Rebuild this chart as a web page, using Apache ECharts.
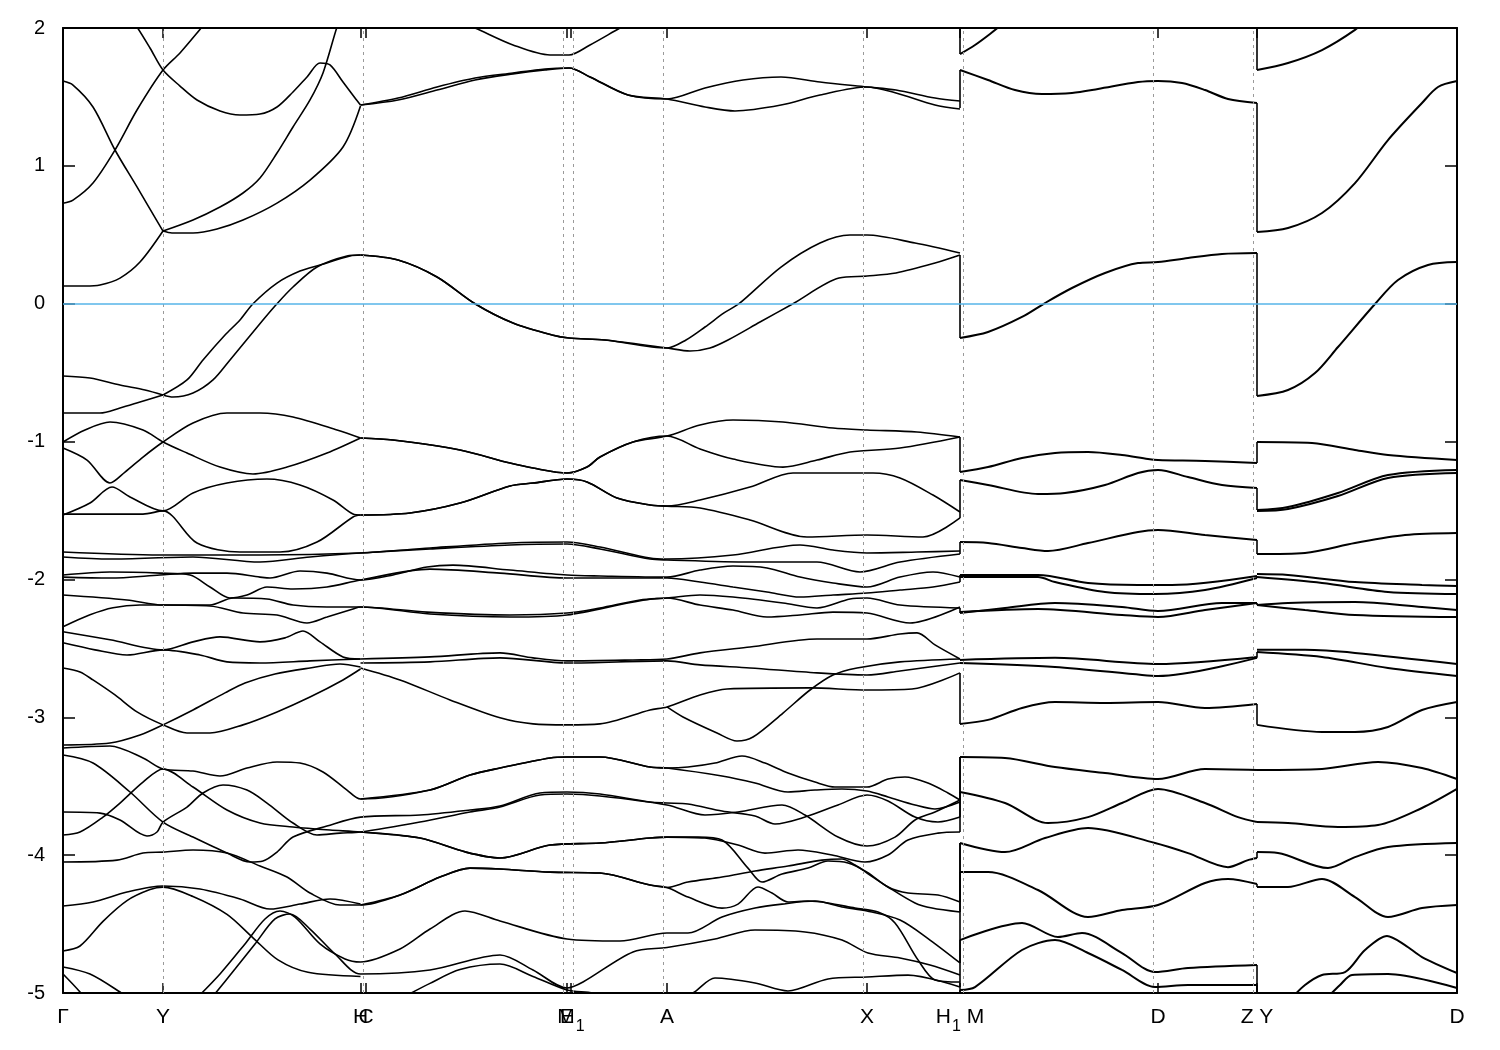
<!DOCTYPE html>
<html><head><meta charset="utf-8">
<script src="https://cdn.jsdelivr.net/npm/echarts@6/dist/echarts.min.js"></script>
<style>html,body{margin:0;padding:0;background:#fff}#c{width:1500px;height:1050px}</style>
</head><body><div id="c"></div>
<script>
// k-path positions (path length units) and their labels ("_1" = subscript 1)
const kTicks = [0, 0.100, 0.2975, 0.303, 0.504, 0.508, 0.604, 0.804, 0.897, 1.095, 1.194, 1.394];
const kLabels = ['Γ', 'Y', 'H', 'C', 'E', 'M_1', 'A', 'X', 'H_1 M', 'D', 'Z Y', 'D'];
const yTicks = [-5, -4, -3, -2, -1, 0, 1, 2];
const kBreakHM = 0.897, kBreakZY = 1.194;

// Section Γ-Y-H | C-E-M1-A-X-H1 : each entry is one band curve [k, E(eV)]
const bandsA = [
 [[0,1.615],[0.010,1.586],[0.030,1.427],[0.052,1.115],[0.074,0.847],[0.100,0.527]],
 [[0,0.729],[0.010,0.752],[0.030,0.876],[0.052,1.115],[0.074,1.405],[0.100,1.695],[0.117,1.819],[0.139,2.007],[0.149,2.094]],
 [[0.065,2.094],[0.074,2.007],[0.087,1.855],[0.100,1.695],[0.117,1.579],[0.134,1.478],[0.157,1.398],[0.177,1.369],[0.197,1.376],[0.214,1.427],[0.230,1.536],[0.244,1.645],[0.257,1.746],[0.267,1.732],[0.280,1.608],[0.292,1.492],[0.2975,1.441]],
 [[0.100,0.527],[0.130,0.607],[0.157,0.701],[0.180,0.803],[0.197,0.912],[0.214,1.093],[0.230,1.282],[0.247,1.478],[0.260,1.674],[0.274,2.007],[0.279,2.094]],
 [[0,0.129],[0.022,0.129],[0.037,0.136],[0.057,0.186],[0.077,0.302],[0.100,0.527]],
 [[0.100,0.527],[0.109,0.513],[0.130,0.513],[0.154,0.542],[0.180,0.607],[0.214,0.730],[0.247,0.897],[0.280,1.137],[0.2975,1.434]],
 [[0.2975,1.441],[0.335,1.492],[0.374,1.572],[0.412,1.637],[0.450,1.674],[0.482,1.703],[0.506,1.710],[0.527,1.645],[0.565,1.514],[0.604,1.485],[0.642,1.565],[0.680,1.623],[0.718,1.645],[0.757,1.608],[0.804,1.572],[0.833,1.550],[0.872,1.492],[0.897,1.470]],
 [[0.2975,1.441],[0.335,1.478],[0.374,1.550],[0.412,1.623],[0.450,1.667],[0.482,1.696],[0.506,1.710],[0.527,1.645],[0.565,1.514],[0.604,1.485],[0.642,1.427],[0.672,1.398],[0.718,1.441],[0.757,1.514],[0.804,1.572],[0.833,1.529],[0.872,1.441],[0.897,1.412]],
 [[0.392,2.058],[0.412,2.0],[0.450,1.877],[0.487,1.804],[0.506,1.804],[0.527,1.877],[0.557,2.0],[0.572,2.058]],
 [[0,-0.524],[0.027,-0.539],[0.057,-0.590],[0.082,-0.626],[0.100,-0.662]],
 [[0,-0.793],[0.037,-0.793],[0.057,-0.757],[0.077,-0.713],[0.100,-0.662]],
 [[0.100,-0.662],[0.124,-0.553],[0.140,-0.408],[0.162,-0.227],[0.177,-0.118],[0.190,0],[0.214,0.150],[0.237,0.237],[0.257,0.281],[0.287,0.346],[0.2975,0.353]],
 [[0.100,-0.662],[0.110,-0.677],[0.130,-0.648],[0.150,-0.553],[0.167,-0.408],[0.200,-0.118],[0.214,0],[0.230,0.121],[0.254,0.266],[0.284,0.346],[0.2975,0.353]],
 [[0.2975,0.353],[0.335,0.317],[0.374,0.194],[0.412,0],[0.450,-0.140],[0.489,-0.227],[0.506,-0.249],[0.542,-0.263],[0.604,-0.321],[0.623,-0.263],[0.642,-0.169],[0.661,-0.067],[0.676,0],[0.718,0.266],[0.757,0.440],[0.787,0.498],[0.804,0.498],[0.852,0.440],[0.897,0.368]],
 [[0.2975,0.353],[0.335,0.317],[0.374,0.194],[0.412,0],[0.450,-0.140],[0.489,-0.227],[0.506,-0.249],[0.542,-0.263],[0.604,-0.321],[0.627,-0.343],[0.647,-0.321],[0.665,-0.263],[0.697,-0.133],[0.730,0],[0.776,0.186],[0.804,0.201],[0.833,0.223],[0.872,0.295],[0.897,0.353]],
 [[0,-1.003],[0.022,-0.916],[0.047,-0.858],[0.080,-0.916],[0.100,-1.003],[0.124,-1.083],[0.157,-1.185],[0.190,-1.235],[0.224,-1.185],[0.264,-1.083],[0.2975,-0.974]],
 [[0,-1.047],[0.024,-1.134],[0.047,-1.300],[0.062,-1.221],[0.080,-1.112],[0.100,-1.003],[0.130,-0.865],[0.164,-0.793],[0.197,-0.793],[0.230,-0.822],[0.274,-0.916],[0.2975,-0.974]],
 [[0,-1.533],[0.027,-1.446],[0.049,-1.330],[0.067,-1.402],[0.100,-1.503],[0.130,-1.373],[0.164,-1.301],[0.204,-1.272],[0.237,-1.315],[0.270,-1.424],[0.290,-1.526],[0.2975,-1.533]],
 [[0,-1.526],[0.080,-1.526],[0.100,-1.503],[0.134,-1.736],[0.177,-1.801],[0.217,-1.801],[0.254,-1.729],[0.290,-1.547],[0.2975,-1.533]],
 [[0.2975,-0.974],[0.330,-0.989],[0.397,-1.061],[0.447,-1.156],[0.470,-1.192],[0.504,-1.228],[0.524,-1.185],[0.537,-1.112],[0.570,-1.003],[0.604,-0.960],[0.637,-0.880],[0.670,-0.844],[0.720,-0.858],[0.770,-0.902],[0.804,-0.916],[0.854,-0.931],[0.897,-0.967]],
 [[0.2975,-0.974],[0.330,-0.989],[0.397,-1.061],[0.447,-1.156],[0.470,-1.192],[0.504,-1.228],[0.524,-1.185],[0.537,-1.112],[0.570,-1.003],[0.604,-0.960],[0.637,-1.054],[0.670,-1.127],[0.720,-1.185],[0.754,-1.134],[0.787,-1.076],[0.837,-1.047],[0.897,-0.967]],
 [[0.2975,-1.533],[0.347,-1.518],[0.397,-1.446],[0.447,-1.322],[0.470,-1.301],[0.504,-1.272],[0.524,-1.293],[0.554,-1.409],[0.587,-1.460],[0.604,-1.468],[0.637,-1.424],[0.687,-1.330],[0.730,-1.228],[0.770,-1.228],[0.810,-1.228],[0.837,-1.264],[0.870,-1.388],[0.897,-1.511]],
 [[0.2975,-1.533],[0.347,-1.518],[0.397,-1.446],[0.447,-1.322],[0.470,-1.301],[0.504,-1.272],[0.524,-1.293],[0.554,-1.409],[0.587,-1.460],[0.604,-1.468],[0.637,-1.482],[0.687,-1.569],[0.744,-1.692],[0.804,-1.678],[0.860,-1.692],[0.897,-1.554]],
 [[0,-1.801],[0.097,-1.823],[0.197,-1.823],[0.297,-1.808],[0.367,-1.772],[0.447,-1.736],[0.504,-1.729],[0.537,-1.765],[0.587,-1.845],[0.604,-1.852],[0.670,-1.823],[0.737,-1.750],[0.770,-1.787],[0.804,-1.808],[0.854,-1.801],[0.897,-1.794]],
 [[0,-1.837],[0.047,-1.852],[0.130,-1.837],[0.197,-1.874],[0.247,-1.837],[0.297,-1.808],[0.367,-1.779],[0.447,-1.750],[0.504,-1.743],[0.537,-1.779],[0.587,-1.852],[0.604,-1.859],[0.687,-1.874],[0.754,-1.874],[0.797,-1.946],[0.837,-1.874],[0.897,-1.816]],
 [[0,-1.983],[0.047,-1.990],[0.097,-1.968],[0.130,-1.954],[0.164,-1.954],[0.197,-1.983],[0.207,-1.990],[0.237,-1.939],[0.264,-1.954],[0.2975,-2.004],[0.330,-1.968],[0.364,-1.910],[0.390,-1.896],[0.447,-1.932],[0.504,-1.968],[0.537,-1.975],[0.604,-1.983],[0.637,-1.932],[0.670,-1.903],[0.704,-1.917],[0.737,-1.983],[0.770,-2.026],[0.804,-2.055],[0.837,-1.983],[0.870,-1.946],[0.897,-1.983]],
 [[0,-1.968],[0.047,-1.946],[0.097,-1.954],[0.127,-1.968],[0.147,-2.055],[0.167,-2.135],[0.184,-2.113],[0.204,-2.055],[0.230,-2.069],[0.264,-2.055],[0.2975,-2.004],[0.367,-1.925],[0.437,-1.954],[0.504,-1.990],[0.604,-1.990],[0.637,-2.019],[0.670,-2.055],[0.704,-2.091],[0.737,-2.128],[0.770,-2.113],[0.804,-2.099],[0.837,-2.077],[0.870,-2.055],[0.897,-2.019]],
 [[0,-2.113],[0.064,-2.149],[0.100,-2.186],[0.147,-2.186],[0.170,-2.135],[0.204,-2.142],[0.230,-2.186],[0.264,-2.200],[0.2975,-2.200],[0.364,-2.237],[0.447,-2.258],[0.504,-2.244],[0.537,-2.207],[0.577,-2.149],[0.604,-2.135],[0.637,-2.113],[0.670,-2.128],[0.720,-2.171],[0.754,-2.207],[0.787,-2.142],[0.804,-2.135],[0.837,-2.186],[0.897,-2.207]],
 [[0,-2.343],[0.027,-2.256],[0.050,-2.205],[0.077,-2.186],[0.100,-2.186],[0.147,-2.193],[0.180,-2.244],[0.214,-2.258],[0.244,-2.316],[0.264,-2.273],[0.290,-2.215],[0.2975,-2.200],[0.367,-2.251],[0.447,-2.273],[0.504,-2.258],[0.604,-2.135],[0.637,-2.186],[0.670,-2.222],[0.704,-2.273],[0.737,-2.258],[0.770,-2.237],[0.804,-2.244],[0.847,-2.316],[0.897,-2.200]],
 [[0,-2.380],[0.047,-2.438],[0.100,-2.511],[0.130,-2.453],[0.157,-2.417],[0.197,-2.453],[0.222,-2.424],[0.240,-2.374],[0.257,-2.453],[0.280,-2.562],[0.2975,-2.577]],
 [[0,-2.460],[0.032,-2.511],[0.064,-2.548],[0.100,-2.511],[0.137,-2.548],[0.164,-2.598],[0.197,-2.606],[0.247,-2.591],[0.2975,-2.577]],
 [[0.2975,-2.577],[0.367,-2.562],[0.437,-2.533],[0.470,-2.569],[0.504,-2.591],[0.570,-2.584],[0.604,-2.577],[0.637,-2.533],[0.687,-2.490],[0.754,-2.432],[0.804,-2.432],[0.837,-2.396],[0.854,-2.388],[0.872,-2.475],[0.897,-2.577]],
 [[0.2975,-2.606],[0.367,-2.598],[0.437,-2.569],[0.504,-2.606],[0.604,-2.591],[0.637,-2.620],[0.687,-2.642],[0.754,-2.678],[0.804,-2.693],[0.837,-2.664],[0.897,-2.606]],
 [[0.2975,-2.642],[0.337,-2.729],[0.387,-2.874],[0.437,-3.004],[0.470,-3.048],[0.504,-3.055],[0.537,-3.048],[0.587,-2.947],[0.604,-2.925],[0.637,-2.838],[0.664,-2.795],[0.747,-2.787],[0.804,-2.802],[0.849,-2.795],[0.897,-2.678]],
 [[0.604,-2.925],[0.620,-2.998],[0.654,-3.114],[0.674,-3.172],[0.690,-3.143],[0.720,-2.969],[0.747,-2.802],[0.770,-2.693],[0.794,-2.642],[0.837,-2.598],[0.897,-2.577]],
 [[0,-2.642],[0.017,-2.671],[0.030,-2.729],[0.052,-2.838],[0.074,-2.961],[0.100,-3.055],[0.124,-3.114],[0.147,-3.114],[0.180,-3.055],[0.214,-2.961],[0.247,-2.853],[0.280,-2.729],[0.2975,-2.650]],
 [[0,-3.201],[0.047,-3.187],[0.077,-3.129],[0.100,-3.055],[0.130,-2.947],[0.162,-2.823],[0.182,-2.751],[0.212,-2.686],[0.247,-2.642],[0.277,-2.613],[0.2975,-2.635]],
 [[0,-3.223],[0.047,-3.208],[0.080,-3.295],[0.100,-3.375],[0.130,-3.390],[0.157,-3.426],[0.184,-3.368],[0.214,-3.324],[0.237,-3.332],[0.260,-3.397],[0.284,-3.528],[0.2975,-3.593],[0.367,-3.528],[0.407,-3.419],[0.437,-3.368],[0.487,-3.295],[0.504,-3.288],[0.537,-3.288],[0.587,-3.361],[0.604,-3.368],[0.625,-3.361],[0.652,-3.332],[0.679,-3.281],[0.702,-3.332],[0.725,-3.404],[0.752,-3.470],[0.772,-3.506],[0.804,-3.506],[0.825,-3.448],[0.842,-3.433],[0.865,-3.477],[0.885,-3.549],[0.897,-3.600]],
 [[0.2975,-3.593],[0.367,-3.528],[0.407,-3.419],[0.437,-3.368],[0.487,-3.295],[0.504,-3.288],[0.537,-3.288],[0.587,-3.361],[0.604,-3.368],[0.659,-3.426],[0.692,-3.477],[0.725,-3.542],[0.752,-3.528],[0.779,-3.520],[0.804,-3.535],[0.825,-3.578],[0.852,-3.636],[0.872,-3.665],[0.897,-3.615]],
 [[0,-3.274],[0.030,-3.332],[0.067,-3.542],[0.100,-3.760],[0.130,-3.869],[0.164,-3.985],[0.187,-4.050],[0.200,-4.043],[0.214,-3.978],[0.230,-3.869],[0.264,-3.789],[0.2975,-3.724],[0.357,-3.709],[0.407,-3.673],[0.437,-3.644],[0.477,-3.549],[0.504,-3.542],[0.537,-3.557],[0.587,-3.615],[0.604,-3.622],[0.625,-3.629],[0.659,-3.680],[0.692,-3.716],[0.712,-3.774],[0.742,-3.724],[0.775,-3.636],[0.804,-3.564],[0.825,-3.607],[0.852,-3.724],[0.875,-3.760],[0.897,-3.724]],
 [[0,-3.687],[0.037,-3.695],[0.057,-3.745],[0.084,-3.861],[0.094,-3.832],[0.100,-3.760],[0.124,-3.651],[0.140,-3.549],[0.160,-3.491],[0.184,-3.528],[0.204,-3.622],[0.230,-3.767],[0.254,-3.854],[0.277,-3.840],[0.2975,-3.832],[0.357,-3.760],[0.407,-3.687],[0.437,-3.651],[0.477,-3.564],[0.504,-3.557],[0.537,-3.571],[0.604,-3.636],[0.642,-3.709],[0.675,-3.687],[0.719,-3.636],[0.742,-3.709],[0.775,-3.869],[0.804,-3.934],[0.832,-3.869],[0.852,-3.745],[0.872,-3.687],[0.897,-3.600]],
 [[0,-3.854],[0.017,-3.832],[0.040,-3.724],[0.057,-3.622],[0.080,-3.470],[0.100,-3.375],[0.130,-3.506],[0.164,-3.673],[0.197,-3.767],[0.230,-3.796],[0.267,-3.818],[0.2975,-3.832],[0.357,-3.876],[0.403,-3.978],[0.437,-4.021],[0.487,-3.927],[0.537,-3.912],[0.587,-3.876],[0.604,-3.869],[0.635,-3.869],[0.659,-3.890],[0.685,-4.094],[0.699,-4.195],[0.719,-4.137],[0.745,-4.094],[0.765,-4.043],[0.785,-4.057],[0.804,-4.123],[0.825,-4.231],[0.845,-4.275],[0.875,-4.289],[0.897,-4.340]],
 [[0.2975,-3.832],[0.357,-3.876],[0.403,-3.978],[0.437,-4.021],[0.487,-3.927],[0.537,-3.912],[0.587,-3.876],[0.604,-3.869],[0.642,-3.876],[0.675,-3.927],[0.702,-3.985],[0.735,-3.963],[0.769,-3.999],[0.802,-4.050],[0.825,-3.999],[0.845,-3.890],[0.875,-3.840],[0.897,-3.832]],
 [[0,-4.050],[0.054,-4.036],[0.080,-3.985],[0.100,-3.978],[0.130,-3.963],[0.164,-3.985],[0.197,-4.079],[0.224,-4.159],[0.247,-4.275],[0.277,-4.362],[0.2975,-4.362],[0.337,-4.289],[0.377,-4.159],[0.407,-4.094],[0.437,-4.101],[0.487,-4.123],[0.537,-4.130],[0.587,-4.217],[0.604,-4.235],[0.625,-4.195],[0.659,-4.159],[0.692,-4.115],[0.725,-4.079],[0.759,-4.036],[0.779,-4.028],[0.792,-4.072],[0.804,-4.130],[0.825,-4.231],[0.852,-4.347],[0.869,-4.384],[0.897,-4.413]],
 [[0.2975,-4.362],[0.337,-4.289],[0.377,-4.159],[0.407,-4.094],[0.437,-4.101],[0.487,-4.123],[0.537,-4.130],[0.587,-4.217],[0.604,-4.235],[0.625,-4.304],[0.659,-4.384],[0.675,-4.355],[0.695,-4.231],[0.709,-4.275],[0.725,-4.340],[0.745,-4.333],[0.765,-4.347],[0.792,-4.384],[0.815,-4.413],[0.832,-4.492],[0.855,-4.760],[0.872,-4.905],[0.897,-4.920]],
 [[0,-4.369],[0.030,-4.340],[0.064,-4.268],[0.100,-4.224],[0.137,-4.246],[0.177,-4.318],[0.207,-4.391],[0.237,-4.355],[0.267,-4.318],[0.2975,-4.355]],
 [[0,-4.695],[0.017,-4.659],[0.040,-4.480],[0.064,-4.330],[0.087,-4.250],[0.100,-4.232],[0.130,-4.300],[0.164,-4.430],[0.190,-4.600],[0.215,-4.760],[0.245,-4.850],[0.2975,-4.880]],
 [[0,-4.811],[0.027,-4.862],[0.057,-4.993],[0.067,-5.05]],
 [[0,-4.862],[0.017,-4.993],[0.022,-5.05]],
 [[0.132,-5.05],[0.157,-4.862],[0.182,-4.644],[0.202,-4.463],[0.217,-4.405],[0.232,-4.449],[0.257,-4.644],[0.282,-4.753],[0.2975,-4.775],[0.337,-4.681],[0.367,-4.536],[0.402,-4.405],[0.437,-4.478],[0.504,-4.608],[0.557,-4.623],[0.604,-4.565],[0.625,-4.565],[0.659,-4.449],[0.692,-4.384],[0.719,-4.355],[0.752,-4.333],[0.779,-4.376],[0.804,-4.405],[0.837,-4.471],[0.867,-4.616],[0.897,-4.782]],
 [[0.147,-5.05],[0.172,-4.826],[0.192,-4.644],[0.212,-4.463],[0.227,-4.427],[0.247,-4.536],[0.272,-4.717],[0.2975,-4.862],[0.367,-4.833],[0.437,-4.724],[0.470,-4.833],[0.504,-4.964],[0.520,-4.920],[0.570,-4.702],[0.604,-4.670],[0.652,-4.608],[0.692,-4.543],[0.742,-4.557],[0.779,-4.616],[0.805,-4.710],[0.837,-4.746],[0.867,-4.797],[0.897,-4.869]],
 [[0.335,-5.05],[0.367,-4.930],[0.397,-4.830],[0.437,-4.790],[0.470,-4.880],[0.504,-4.978],[0.530,-5.0],[0.560,-5.06]],
 [[0.617,-5.06],[0.632,-4.99],[0.652,-4.891],[0.692,-4.927],[0.725,-4.985],[0.765,-4.898],[0.804,-4.884],[0.845,-4.870],[0.897,-4.957]]
];

// Section M-D-Z
const bandsB = [
 [[0.897,1.811],[0.912,1.877],[0.927,1.957],[0.942,2.044]],
 [[0.897,1.695],[0.925,1.623],[0.952,1.550],[0.979,1.521],[1.009,1.529],[1.035,1.558],[1.075,1.608],[1.095,1.616],[1.119,1.601],[1.142,1.550],[1.165,1.485],[1.194,1.456]],
 [[0.897,-0.248],[0.925,-0.205],[0.959,-0.096],[0.982,0.005],[1.009,0.114],[1.042,0.223],[1.075,0.295],[1.095,0.302],[1.125,0.332],[1.159,0.361],[1.194,0.368]],
 [[0.897,-1.221],[0.925,-1.185],[0.959,-1.119],[0.992,-1.083],[1.025,-1.076],[1.059,-1.098],[1.085,-1.127],[1.095,-1.134],[1.142,-1.141],[1.194,-1.156]],
 [[0.897,-1.279],[0.925,-1.315],[0.975,-1.380],[1.002,-1.373],[1.042,-1.315],[1.075,-1.228],[1.095,-1.206],[1.125,-1.257],[1.159,-1.315],[1.194,-1.337]],
 [[0.897,-1.729],[0.925,-1.736],[0.959,-1.772],[0.985,-1.794],[1.025,-1.736],[1.075,-1.656],[1.095,-1.642],[1.142,-1.678],[1.194,-1.714]],
 [[0.897,-1.968],[0.975,-1.968],[1.025,-2.026],[1.075,-2.040],[1.109,-2.040],[1.194,-1.975]],
 [[0.897,-1.983],[0.975,-1.983],[0.992,-2.019],[1.042,-2.091],[1.092,-2.106],[1.142,-2.077],[1.194,-1.990]],
 [[0.897,-2.244],[0.942,-2.207],[0.992,-2.171],[1.059,-2.200],[1.095,-2.229],[1.159,-2.171],[1.194,-2.171]],
 [[0.897,-2.237],[0.975,-2.215],[1.059,-2.258],[1.095,-2.273],[1.142,-2.222],[1.194,-2.171]],
 [[0.897,-2.584],[0.992,-2.569],[1.095,-2.613],[1.194,-2.562]],
 [[0.897,-2.606],[0.992,-2.635],[1.079,-2.693],[1.095,-2.700],[1.194,-2.569]],
 [[0.897,-3.048],[0.925,-3.019],[0.959,-2.932],[0.992,-2.889],[1.042,-2.896],[1.095,-2.889],[1.142,-2.932],[1.194,-2.903]],
 [[0.897,-3.288],[0.942,-3.295],[0.992,-3.361],[1.042,-3.404],[1.095,-3.448],[1.142,-3.375],[1.194,-3.382]],
 [[0.897,-3.542],[0.942,-3.622],[0.985,-3.767],[1.025,-3.724],[1.059,-3.622],[1.095,-3.520],[1.142,-3.622],[1.175,-3.724],[1.194,-3.760]],
 [[0.897,-3.912],[0.942,-3.978],[0.982,-3.876],[1.025,-3.803],[1.092,-3.912],[1.125,-3.985],[1.165,-4.087],[1.185,-4.036],[1.194,-4.021]],
 [[0.897,-4.123],[0.925,-4.123],[0.975,-4.253],[1.025,-4.449],[1.059,-4.398],[1.095,-4.362],[1.142,-4.202],[1.165,-4.173],[1.194,-4.210]],
 [[0.897,-4.616],[0.959,-4.492],[0.995,-4.594],[1.019,-4.565],[1.059,-4.710],[1.092,-4.848],[1.125,-4.819],[1.194,-4.797]],
 [[0.897,-4.978],[0.912,-4.957],[0.959,-4.688],[0.992,-4.616],[1.025,-4.710],[1.059,-4.833],[1.092,-4.957],[1.125,-4.942],[1.194,-4.942]]
];

// Section Y-D
const bandsC = [
 [[1.194,1.695],[1.225,1.746],[1.259,1.840],[1.292,1.986],[1.302,2.058]],
 [[1.194,0.520],[1.225,0.549],[1.259,0.658],[1.292,0.875],[1.325,1.187],[1.359,1.456],[1.375,1.572],[1.394,1.615]],
 [[1.194,-0.669],[1.225,-0.626],[1.252,-0.503],[1.275,-0.314],[1.312,-0.002],[1.335,0.172],[1.365,0.281],[1.394,0.302]],
 [[1.194,-1.003],[1.249,-1.011],[1.292,-1.061],[1.325,-1.098],[1.394,-1.134]],
 [[1.194,-1.497],[1.225,-1.475],[1.275,-1.373],[1.325,-1.243],[1.394,-1.206]],
 [[1.194,-1.504],[1.225,-1.489],[1.275,-1.395],[1.325,-1.264],[1.394,-1.228]],
 [[1.194,-1.816],[1.242,-1.808],[1.292,-1.736],[1.342,-1.678],[1.394,-1.663]],
 [[1.194,-1.961],[1.225,-1.968],[1.292,-2.019],[1.359,-2.040],[1.394,-2.048]],
 [[1.194,-1.983],[1.259,-2.026],[1.325,-2.091],[1.394,-2.106]],
 [[1.194,-2.186],[1.225,-2.171],[1.292,-2.164],[1.359,-2.200],[1.394,-2.222]],
 [[1.194,-2.186],[1.242,-2.222],[1.292,-2.258],[1.394,-2.273]],
 [[1.194,-2.511],[1.242,-2.511],[1.292,-2.533],[1.394,-2.613]],
 [[1.194,-2.526],[1.259,-2.562],[1.325,-2.642],[1.394,-2.700]],
 [[1.194,-3.055],[1.259,-3.106],[1.292,-3.106],[1.325,-3.070],[1.359,-2.947],[1.394,-2.889]],
 [[1.194,-3.382],[1.259,-3.375],[1.315,-3.324],[1.359,-3.368],[1.394,-3.448]],
 [[1.194,-3.760],[1.225,-3.767],[1.275,-3.796],[1.315,-3.782],[1.359,-3.658],[1.394,-3.520]],
 [[1.194,-3.978],[1.215,-3.985],[1.265,-4.094],[1.292,-4.014],[1.325,-3.941],[1.394,-3.912]],
 [[1.194,-4.231],[1.225,-4.231],[1.259,-4.173],[1.292,-4.304],[1.325,-4.449],[1.359,-4.384],[1.394,-4.362]],
 [[1.227,-5.05],[1.242,-4.942],[1.259,-4.869],[1.282,-4.848],[1.302,-4.688],[1.324,-4.586],[1.342,-4.652],[1.359,-4.739],[1.394,-4.855]],
 [[1.262,-5.05],[1.277,-4.942],[1.289,-4.869],[1.325,-4.862],[1.394,-4.964]]
];

// Vertical jumps at the path discontinuities: [E left, E right]
const jumpsHM = [[2.2,1.811],[1.42,1.695],[0.353,-0.248],[-0.967,-1.221],[-1.554,-1.279],[-1.816,-1.729],[-2.019,-1.968],[-2.207,-2.244],[-2.678,-3.048],[-3.600,-3.288],[-3.724,-3.288],[-3.832,-3.542],[-4.340,-3.912],[-4.413,-3.912],[-4.782,-4.123],[-4.957,-4.616],[-5.2,-4.978]];
const jumpsZY = [[2.2,1.695],[1.456,0.520],[0.368,-0.669],[-1.156,-1.003],[-1.337,-1.497],[-1.714,-1.816],[-1.990,-1.983],[-2.171,-2.186],[-2.569,-2.526],[-2.903,-3.055],[-4.021,-3.978],[-4.210,-4.231],[-4.797,-5.2],[-4.942,-5.3]];

const chart = echarts.init(document.getElementById('c'), null, {renderer: 'canvas'});
const font = 'Liberation Sans, Arial, Helvetica, sans-serif';
const series = [];
const lineBase = {type: 'line', showSymbol: false, symbol: 'none', silent: true, clip: true, z: 3};

series.push({type: 'line', data: [[0, -10]], showSymbol: false, silent: true, z: 1,
  markLine: {silent: true, symbol: ['none', 'none'], label: {show: false}, animation: false,
    data: kTicks.slice(1, -1).map(v => ({xAxis: v, lineStyle: {type: [3, 4], color: '#9a9a9a', width: 1}}))
      .concat([{yAxis: 0, lineStyle: {type: 'solid', color: '#56b4e9', width: 1.6}}])}});

bandsA.forEach(b => series.push(Object.assign({}, lineBase, {data: b, smooth: 0.3, lineStyle: {color: '#000', width: 1.6}})));
bandsB.forEach(b => series.push(Object.assign({}, lineBase, {data: b, smooth: 0.3, lineStyle: {color: '#000', width: 2.0}})));
bandsC.forEach(b => series.push(Object.assign({}, lineBase, {data: b, smooth: 0.3, lineStyle: {color: '#000', width: 2.0}})));
jumpsHM.forEach(j => series.push(Object.assign({}, lineBase, {data: [[kBreakHM, j[0]], [kBreakHM, j[1]]], lineStyle: {color: '#000', width: 1.6}})));
jumpsZY.forEach(j => series.push(Object.assign({}, lineBase, {data: [[kBreakZY, j[0]], [kBreakZY, j[1]]], lineStyle: {color: '#000', width: 1.6}})));

function kName(v) {
  for (let i = 0; i < kTicks.length; i++) {
    if (Math.abs(kTicks[i] - v) < 1e-6) {
      return kLabels[i].split(' ').map(p => {
        const m = p.split('_');
        return '{n|' + m[0] + '}' + (m.length > 1 ? '{s|' + m[1] + '}' : '');
      }).join('{n| }');
    }
  }
  return '';
}
const xCommon = {type: 'value', min: 0, max: kTicks[kTicks.length - 1],
  splitLine: {show: false}, axisLine: {show: true, onZero: false, lineStyle: {color: '#000', width: 2}}};
const yCommon = {type: 'value', min: yTicks[0], max: yTicks[yTicks.length - 1], interval: 1,
  splitLine: {show: false}, axisLine: {show: true, onZero: false, lineStyle: {color: '#000', width: 2}}};

chart.setOption({
  animation: false,
  backgroundColor: '#fff',
  grid: {left: 63, right: 43, top: 28, bottom: 57, containLabel: false, outerBoundsMode: 'none'},
  xAxis: [
    Object.assign({}, xCommon, {position: 'bottom',
      axisTick: {show: true, inside: true, length: 10, customValues: kTicks, lineStyle: {color: '#000', width: 1.5}},
      axisLabel: {show: true, customValues: kTicks, formatter: kName, color: '#000', fontFamily: font, margin: 14,
        rich: {n: {fontSize: 21, fontFamily: font, color: '#000', lineHeight: 24, verticalAlign: 'top'},
               s: {fontSize: 16, fontFamily: font, color: '#000', lineHeight: 16, padding: [12, 0, 0, 1], verticalAlign: 'top'}}}}),
    Object.assign({}, xCommon, {position: 'top',
      axisTick: {show: true, inside: true, length: 10, customValues: kTicks, lineStyle: {color: '#000', width: 1.5}},
      axisLabel: {show: false}})
  ],
  yAxis: [
    Object.assign({}, yCommon, {position: 'left',
      axisTick: {show: true, inside: true, length: 12, lineStyle: {color: '#000', width: 1.5}},
      axisLabel: {show: true, color: '#000', fontSize: 20, fontFamily: font, margin: 18}}),
    Object.assign({}, yCommon, {position: 'right',
      axisTick: {show: true, inside: true, length: 12, lineStyle: {color: '#000', width: 1.5}},
      axisLabel: {show: false}})
  ],
  series: series
});
</script></body></html>
